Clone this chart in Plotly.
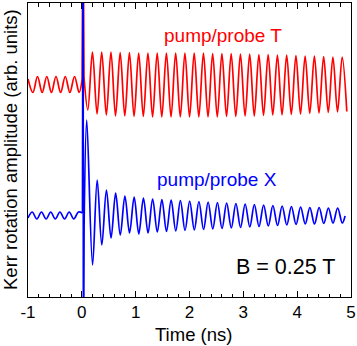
import plotly.graph_objects as go

# ---- data (time in ns, signal in arb. units) ----
red_pre_t = [-1.0, -0.909, -0.823, -0.737, -0.651, -0.565, -0.480, -0.394, -0.308, -0.222, -0.136, -0.050, 0.006]
red_pre_y = [218, 204.5, 220.5, 204.5, 220.5, 204.5, 220.5, 204.5, 220.5, 204.5, 220.5, 204.5, 218]
red_spike_t = [0.006, 0.022, 0.040]
red_spike_y = [218, 400, 220]
red_post_t = [0.040, 0.111, 0.197, 0.283, 0.369, 0.455, 0.541, 0.626, 0.712, 0.798, 0.884,
              0.970, 1.056, 1.142, 1.228, 1.314, 1.400, 1.485, 1.571, 1.657, 1.743,
              1.829, 1.915, 2.001, 2.087, 2.173, 2.259, 2.344, 2.430, 2.516, 2.602,
              2.688, 2.774, 2.860, 2.946, 3.032, 3.118, 3.203, 3.289, 3.375, 3.461,
              3.547, 3.633, 3.719, 3.805, 3.891, 3.977, 4.062, 4.148, 4.234, 4.320,
              4.406, 4.492, 4.578, 4.664, 4.750, 4.836, 4.922]
red_post_y = [220, 187, 245, 183, 245, 182, 245, 181, 244.5, 181, 244.5,
              180.5, 244, 180.5, 244, 180, 244, 180, 244, 180, 244,
              180, 244, 180, 244, 180, 244, 180, 243.5, 180, 243.5,
              180.5, 243.5, 180.5, 243, 181, 243, 181, 242.5, 181.5, 242.5,
              182, 242, 182, 242, 182.5, 241.5, 183, 241, 183.5, 241,
              184, 240.5, 184.5, 240, 185, 240, 185.5]

blue_pre_t = [-1.0, -0.922, -0.836, -0.750, -0.664, -0.578, -0.493, -0.407, -0.321, -0.235, -0.149, -0.063, 0.012]
blue_pre_y = [79, 85, 78, 85, 78, 85, 78, 85, 78, 85, 78, 85, 84]
blue_spike_t = [0.012, 0.022, 0.030, 0.042]
blue_spike_y = [84, 400, -100, 70]
blue_post_t = [0.042, 0.091, 0.199, 0.285, 0.371, 0.457, 0.543, 0.628, 0.714, 0.800, 0.886,
               0.972, 1.058, 1.144, 1.230, 1.315, 1.402, 1.487, 1.573, 1.659, 1.745,
               1.831, 1.917, 2.003, 2.089, 2.175, 2.261, 2.346, 2.432, 2.518, 2.604,
               2.690, 2.776, 2.862, 2.948, 3.034, 3.120, 3.205, 3.291, 3.377, 3.463,
               3.549, 3.635, 3.721, 3.807, 3.893, 3.979, 4.064, 4.150, 4.236, 4.322,
               4.408, 4.494, 4.580, 4.666, 4.752, 4.838, 4.890]
blue_post_y = [70, 177, 32, 117, 52, 107, 59, 104, 62, 101, 64,
               100, 63, 99, 64, 98, 65, 97.5, 65.5, 97, 66,
               96.5, 66.5, 96, 67, 95.5, 67.5, 95, 68, 94.5, 68.5,
               94, 69, 93.5, 69.5, 93, 70, 92.5, 70.5, 92, 71,
               91.5, 71.5, 91, 72, 90.5, 72.5, 90, 73, 89.5, 73,
               89.5, 73.5, 89, 74, 89, 74, 81]

x_tick_vals = [-1, 0, 1, 2, 3, 4, 5]
x_tick_text = ["-1", "0", "1", "2", "3", "4", "5"]

label_red = "pump/probe T"
label_blue = "pump/probe X"
label_field = "B = 0.25 T"
x_title = "Time (ns)"
y_title = "Kerr rotation amplitude (arb. units)"

FONT = "Liberation Sans, Arial, Helvetica, sans-serif"
RED, BLUE = "#ff0000", "#0000ff"
W, H = 357, 346
ML, MR, MT, MB = 28, 6, 3, 49
PW, PH = W - ML - MR, H - MT - MB
LW = 1.7

fig = go.Figure()


def add_line(x, y, color, shape):
    fig.add_trace(go.Scatter(x=x, y=y, mode="lines",
                             line=dict(color=color, width=LW, shape=shape),
                             showlegend=False, hoverinfo="skip"))


add_line(red_pre_t, red_pre_y, RED, "spline")
add_line(red_spike_t, red_spike_y, RED, "linear")
add_line(red_post_t, red_post_y, RED, "spline")
add_line(blue_pre_t, blue_pre_y, BLUE, "spline")
add_line(blue_spike_t, blue_spike_y, BLUE, "linear")
add_line(blue_post_t, blue_post_y, BLUE, "spline")

fig.add_annotation(x=2.62, y=262, text=label_red, showarrow=False,
                   font=dict(family=FONT, size=19, color=RED))
fig.add_annotation(x=2.52, y=118, text=label_blue, showarrow=False,
                   font=dict(family=FONT, size=19, color=BLUE))
fig.add_annotation(x=3.78, y=30, text=label_field, showarrow=False,
                   font=dict(family=FONT, size=21.5, color="#000000"))

# axis titles as paper annotations
fig.add_annotation(xref="paper", yref="paper", x=(193 - ML) / PW, y=-(334 - MT - PH) / PH,
                   text=x_title, showarrow=False, xanchor="center", yanchor="middle",
                   font=dict(family=FONT, size=18.5, color="black"))
fig.add_annotation(xref="paper", yref="paper", x=-(ML - 10) / PW, y=0.5,
                   text=y_title, showarrow=False, textangle=-90,
                   xanchor="center", yanchor="middle",
                   font=dict(family=FONT, size=18.5, color="black"))

fig.update_layout(
    width=W, height=H,
    margin=dict(l=ML, r=MR, t=MT, b=MB, autoexpand=False),
    paper_bgcolor="white", plot_bgcolor="white",
    font=dict(family=FONT, size=17, color="black"),
    xaxis=dict(
        range=[-1, 5], tickvals=x_tick_vals, ticktext=x_tick_text,
        ticks="inside", ticklen=6, tickwidth=1, tickcolor="black",
        showline=True, linecolor="black", linewidth=1, mirror="allticks",
        showgrid=False, zeroline=False, automargin=False,
        minor=dict(dtick=0.2, ticks="inside", ticklen=3.5, tickwidth=1, tickcolor="black", showgrid=False),
        tickfont=dict(size=17),
    ),
    yaxis=dict(
        range=[0, 294], showticklabels=False, ticks="",
        showline=True, linecolor="black", linewidth=1, mirror=True,
        showgrid=False, zeroline=False, automargin=False,
    ),
)

fig.write_html("out.html", config={"displayModeBar": False},
               post_script="document.body.style.margin='0';document.body.style.overflow='hidden';")
